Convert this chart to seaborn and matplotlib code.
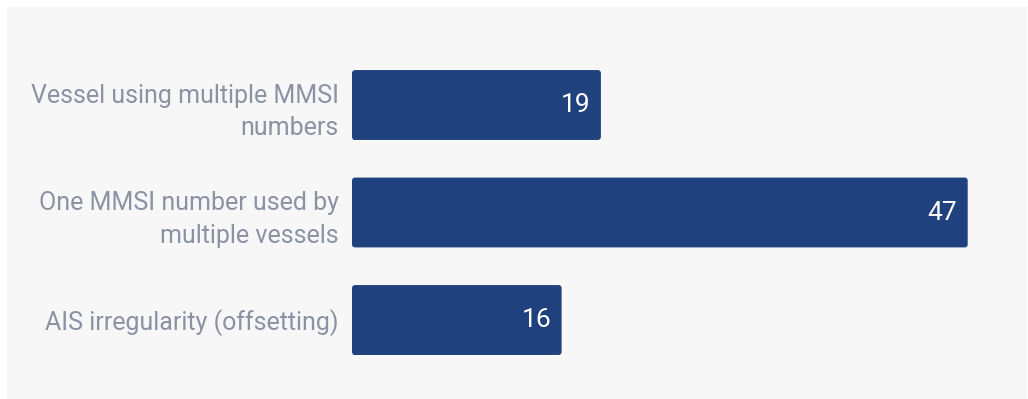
import matplotlib
matplotlib.use("Agg")
import matplotlib.pyplot as plt
import seaborn as sns
import pandas as pd
from matplotlib.patches import FancyBboxPatch, Rectangle

categories = [
    "Vessel using multiple MMSI\nnumbers",
    "One MMSI number used by\nmultiple vessels",
    "AIS irregularity (offsetting)",
]
values = [19, 47, 16]

df = pd.DataFrame({"category": categories, "value": values})

sns.set_theme(style="white")
plt.rcParams["font.family"] = ["Roboto", "DejaVu Sans"]

W, H = 1028, 399
fig = plt.figure(figsize=(W / 100, H / 100), dpi=100)
fig.patch.set_facecolor("white")
# gray panel
fig.patches.append(Rectangle((7 / W, 0), 1 - 8 / W, 1 - 7 / H, transform=fig.transFigure,
                             facecolor="#f7f7f7", edgecolor="none", zorder=-5))

ax_left, ax_right = 352, 352 + 50 * 13.1
ax_top, ax_bot = 51.25, 373.75
ax = fig.add_axes([ax_left / W, 1 - ax_bot / H, (ax_right - ax_left) / W, (ax_bot - ax_top) / H])
ax.set_facecolor("none")
ax.set_zorder(2)

bar_color = "#1f417d"
sns.barplot(data=df, y="category", x="value", orient="h", color=bar_color,
            width=0.65, saturation=1, ax=ax)
ax.set_xlim(0, 50)
ax.set_ylim(2.5, -0.5)

# rounded right corners
px_x = (ax_right - ax_left) / 50.0
px_y = (ax_bot - ax_top) / 3.0
r_px = 3.0
rx = r_px / px_x
aspect = (1 / px_y) / (1 / px_x)
for p in list(ax.patches):
    x, y, w, h = p.get_x(), p.get_y(), p.get_width(), p.get_height()
    p.set_width(w - rx * 1.5)
    fb = FancyBboxPatch((x, y), w, h, boxstyle=f"round,pad=0,rounding_size={rx}",
                        mutation_aspect=aspect, facecolor=bar_color, edgecolor="none")
    ax.add_patch(fb)

for i, v in enumerate(values):
    ax.annotate(str(v), xy=(v, i), xytext=(-7.5, 0), textcoords="offset points",
                ha="right", va="center", color="white", fontsize=19)

ax.set_xlabel("")
ax.set_ylabel("")
ax.set_xticks([])
ax.tick_params(axis="y", length=0, pad=9.5, labelsize=18, labelcolor="#8a92a3")
for lbl in ax.get_yticklabels():
    lbl.set_ha("right")
    lbl.set_multialignment("right")
    lbl.set_linespacing(1.45)
for s in ax.spines.values():
    s.set_visible(False)

fig.savefig("out.png", dpi=100, facecolor=fig.get_facecolor())
